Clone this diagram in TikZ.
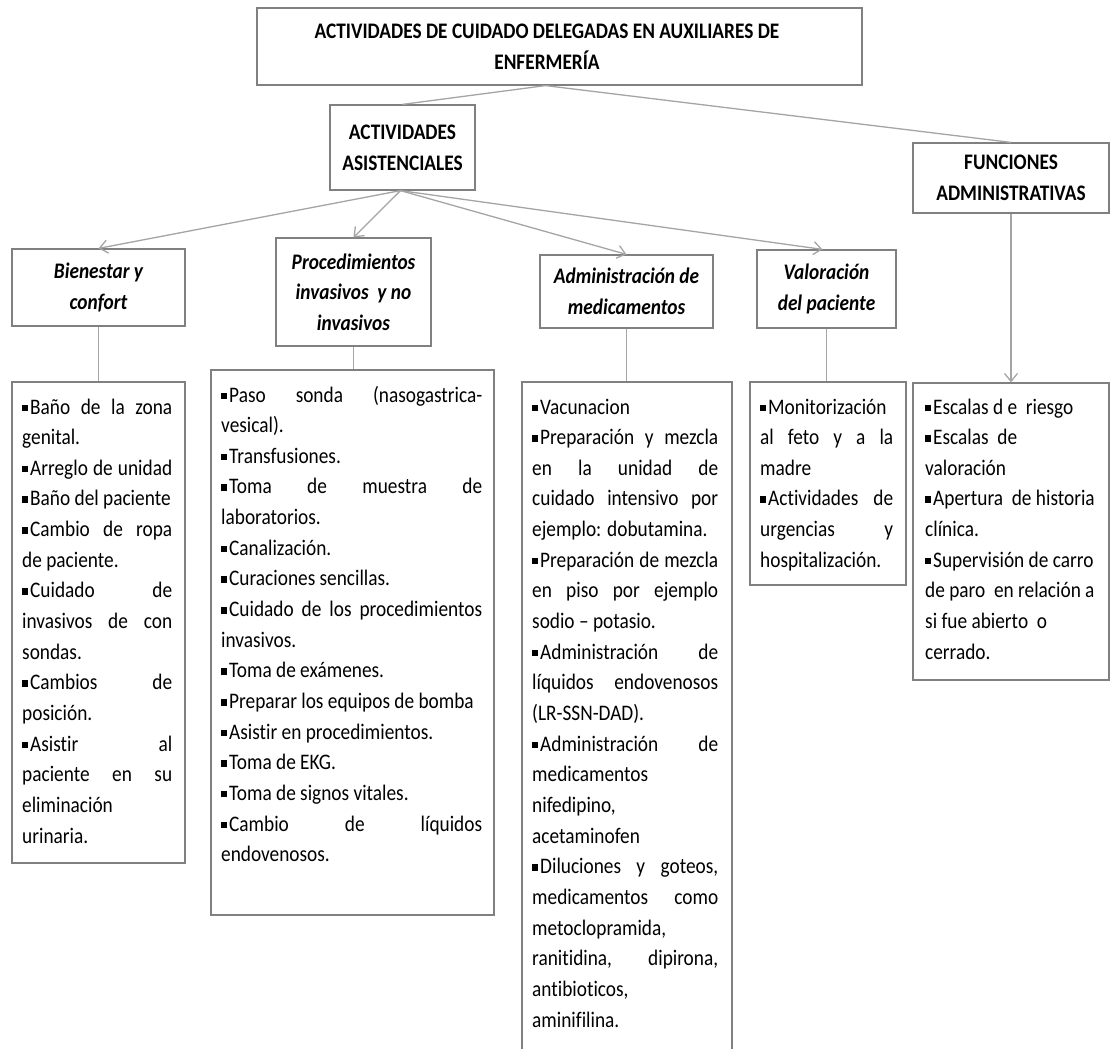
\documentclass[tikz,border=0pt]{standalone}
\usepackage{fontspec}
\setmainfont{Carlito}[FakeStretch=0.87, Ligatures={NoCommon}]
\usetikzlibrary{arrows.meta}
\definecolor{boxgray}{RGB}{128,128,128}
\definecolor{linegray}{RGB}{165,165,165}
\hbadness=10000
\hfuzz=20pt
% small square bullet
\newcommand\bul{\rule[3pt]{5.5pt}{6.5pt}\hspace{2.5pt}}
% justified line / ragged line
\newcommand\jl[1]{\hbox to \hsize{#1}}
\newcommand\rl[1]{\hbox{#1}}
\newcommand\itemlines[2]{\parbox[t]{#1}{\baselineskip=30.65pt #2}}
\begin{document}
\begin{tikzpicture}[x=1pt,y=-1pt,
  headbox/.style={draw=boxgray, line width=1.2pt, inner sep=0pt, align=center,
    font=\fontsize{22.2}{30.6}\selectfont\bfseries},
  headtext/.style={inner sep=0pt, align=center,
    font=\fontsize{22.2}{30.6}\selectfont\bfseries},
  catbox/.style={draw=boxgray, line width=1.2pt, inner sep=0pt, align=center,
    font=\fontsize{22.2}{30.6}\selectfont\bfseries\itshape},
  listbox/.style={draw=boxgray, line width=1.2pt, inner sep=0pt},
  listtext/.style={inner sep=0pt, anchor=base west, font=\fontsize{22.2}{30.6}\selectfont},
  conn/.style={draw=linegray, line width=1.3pt},
  arr/.style={conn, -{Straight Barb[length=8pt,width=13pt]}}]

\useasboundingbox[fill=white] (0,0) rectangle (1111,1049);

% top level
\node[listbox, minimum width=605, minimum height=77] (title) at (559.5,46.5) {};
\node[headtext] (titletext) at (547,47)
  {ACTIVIDADES DE CUIDADO DELEGADAS EN AUXILIARES DE\\ENFERMERÍA};
\node[headbox, minimum width=145, minimum height=85] (asist) at (402.5,147.5)
  {ACTIVIDADES\\ASISTENCIALES};
\node[headbox, minimum width=196, minimum height=70] (func) at (1011,178)
  {FUNCIONES\\ADMINISTRATIVAS};

% categories
\node[catbox, minimum width=173, minimum height=77] (bien) at (98.5,287.5)
  {Bienestar y\\confort};
\node[catbox, minimum width=155, minimum height=108] (proc) at (353.5,292)
  {Procedimientos\\invasivos\ \ y no\\invasivos};
\node[catbox, minimum width=173, minimum height=73] (admin) at (626.5,291.5)
  {Administración de\\medicamentos};
\node[catbox, minimum width=139, minimum height=78] (valor) at (826.5,289)
  {Valoración\\del paciente};

% list frames
\node[listbox, minimum width=173, minimum height=481] (bl) at (98.5,622.5) {};
\node[listbox, minimum width=283, minimum height=545] (pl) at (352.5,642.5) {};
\node[listbox, minimum width=210, minimum height=680] (al) at (627,722) {};
\node[listbox, minimum width=156, minimum height=203] (vl) at (828,483.5) {};
\node[listbox, minimum width=196, minimum height=297] (fl) at (1011,531.5) {};

% list contents
\node[listtext] (bltext) at (22,414) {\itemlines{150pt}{%
  \jl{\bul Baño de la zona}
  \rl{genital.}
  \jl{\bul Arreglo de unidad}
  \rl{\bul Baño del paciente}
  \jl{\bul Cambio de ropa}
  \rl{de paciente.}
  \jl{\bul Cuidado de}
  \jl{invasivos de con}
  \rl{sondas.}
  \jl{\bul Cambios de}
  \rl{posición.}
  \jl{\bul Asistir al}
  \jl{paciente en su}
  \rl{eliminación}
  \rl{urinaria.}}};

\node[listtext] (pltext) at (221,402) {\itemlines{261pt}{%
  \jl{\bul Paso sonda (nasogastrica-}
  \rl{vesical).}
  \rl{\bul Transfusiones.}
  \jl{\bul Toma de muestra de}
  \rl{laboratorios.}
  \rl{\bul Canalización.}
  \rl{\bul Curaciones sencillas.}
  \jl{\bul Cuidado de los procedimientos}
  \rl{invasivos.}
  \rl{\bul Toma de exámenes.}
  \rl{\bul Preparar los equipos de bomba}
  \rl{\bul Asistir en procedimientos.}
  \rl{\bul Toma de EKG.}
  \rl{\bul Toma de signos vitales.}
  \jl{\bul Cambio de líquidos}
  \rl{endovenosos.}}};

\node[listtext] (altext) at (532,414) {\itemlines{186pt}{%
  \rl{\bul Vacunacion}
  \jl{\bul Preparación y mezcla}
  \jl{en la unidad de}
  \jl{cuidado intensivo por}
  \rl{ejemplo: dobutamina.}
  \jl{\bul Preparación de mezcla}
  \jl{en piso por ejemplo}
  \rl{sodio – potasio.}
  \jl{\bul Administración de}
  \jl{líquidos endovenosos}
  \rl{(LR-SSN-DAD).}
  \jl{\bul Administración de}
  \rl{medicamentos}
  \rl{nifedipino,}
  \rl{acetaminofen}
  \jl{\bul Diluciones y goteos,}
  \jl{medicamentos como}
  \rl{metoclopramida,}
  \jl{ranitidina, dipirona,}
  \rl{antibioticos,}
  \rl{aminifilina.}}};

\node[listtext] (vltext) at (760,414) {\itemlines{133pt}{%
  \rl{\bul Monitorización}
  \jl{al feto y a la}
  \rl{madre}
  \jl{\bul Actividades de}
  \jl{urgencias y}
  \rl{hospitalización.}}};

\node[listtext] (fltext) at (925,414) {\itemlines{172pt}{%
  \rl{\bul Escalas d e\ \ riesgo}
  \rl{\bul Escalas\ \ de}
  \rl{valoración}
  \rl{\bul Apertura\ \ de historia}
  \rl{clínica.}
  \rl{\bul Supervisión de carro}
  \rl{de paro\ \ en relación a}
  \rl{si fue abierto\ \ o}
  \rl{cerrado.}}};

% connectors
\draw[conn] ([xshift=-14pt]title.south) -- (asist.north);
\draw[conn] ([xshift=-14pt]title.south) -- (func.north);
\draw[arr] ([xshift=-2pt]asist.south) -- (bien.north);
\draw[arr] ([xshift=-2pt]asist.south) -- (proc.north);
\draw[arr] ([xshift=-2pt]asist.south) -- (admin.north);
\draw[arr] ([xshift=-2pt]asist.south) -- ([xshift=-4pt]valor.north);
\draw[conn] (bien.south) -- (bien.south |- bl.north);
\draw[conn] (proc.south) -- (proc.south |- pl.north);
\draw[conn] (admin.south) -- (admin.south |- al.north);
\draw[conn] (valor.south) -- (valor.south |- vl.north);
\draw[arr] (func.south) -- (func.south |- fl.north);
\end{tikzpicture}
\end{document}
